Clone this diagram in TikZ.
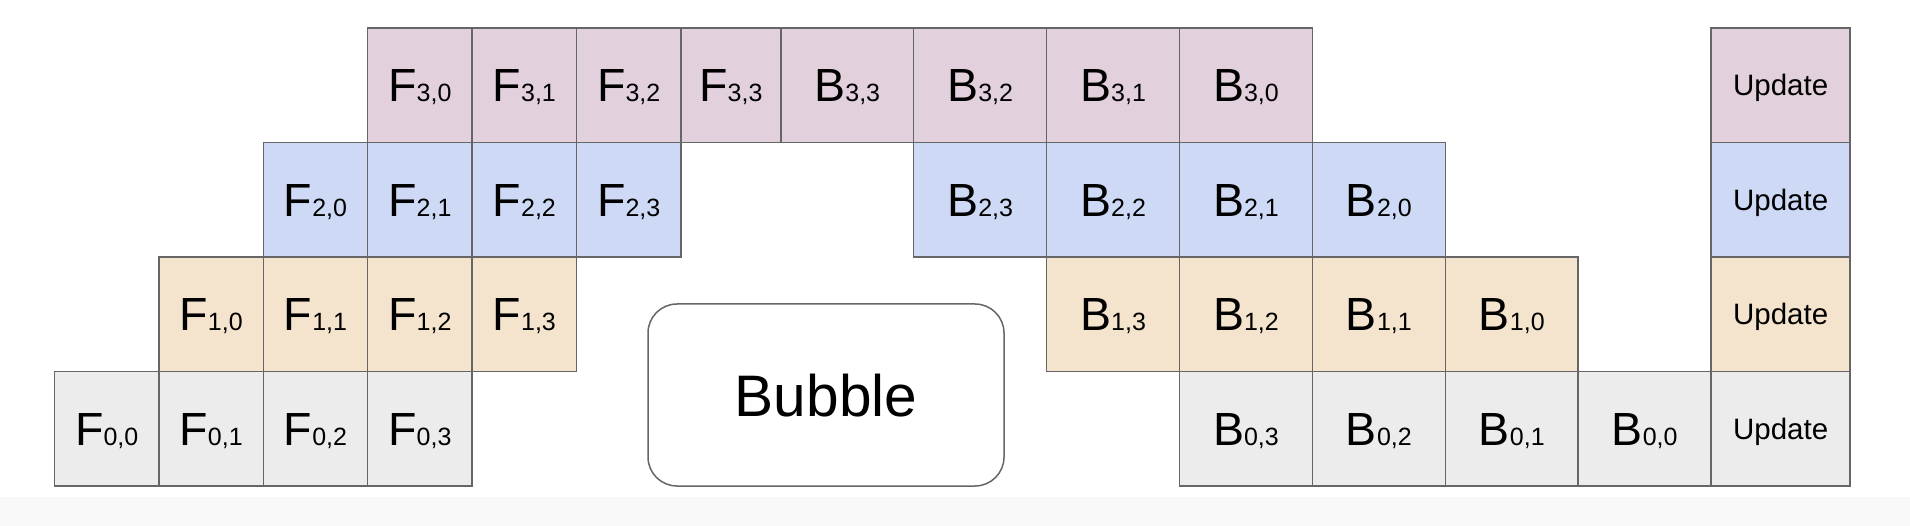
\documentclass[tikz,border=0pt]{standalone}
\usepackage{fontspec}
\setmainfont{Liberation Sans}
\definecolor{cpink}{HTML}{E2D1DC}
\definecolor{cblue}{HTML}{CDD9F5}
\definecolor{ctan}{HTML}{F5E4CD}
\definecolor{cgray}{HTML}{ECECEC}
\definecolor{cline}{HTML}{666666}
\definecolor{cband}{HTML}{F9F9F9}
\begin{document}
\begin{tikzpicture}[x=1pt,y=-1pt,
  cell/.style={draw=cline, line width=1.5pt, inner sep=0pt, minimum height=114.5pt,
    text height=33.3pt, text depth=0pt, font=\fontsize{46.5}{50}\selectfont},
  updbox/.style={draw=cline, line width=1.5pt, inner sep=0pt, minimum height=114.5pt,
    minimum width=139.1pt, text height=21.1pt, text depth=0pt, font=\fontsize{29.5}{32}\selectfont},
  bubblebox/.style={draw=cline, line width=1.5pt, rounded corners=29pt, inner sep=0pt,
    minimum width=356pt, minimum height=182pt, text height=42pt, text depth=0pt,
    font=\fontsize{58.6}{62}\selectfont, fill=white}]
\useasboundingbox (0,0) rectangle (1910,526);
\fill[white] (0,0) rectangle (1910,526);
\fill[cband] (0,497) rectangle (1910,526);
\foreach \r/\col in {0/cgray,1/ctan,2/cblue,3/cpink}{
  \pgfmathsetmacro\cy{428.55-114.5*\r}
  \foreach \k in {0,...,3}{
    \pgfmathsetmacro\fw{(\r+\k==6) ? 99.9 : 104.4}
    \pgfmathsetmacro\fcx{(\r+\k==6) ? 730.85 : 106.7+104.4*(\r+\k)}
    \pgfmathsetmacro\bcx{847.25+132.9*(6-\r-\k)}
    \node[cell, fill=\col, minimum width=\fw pt] (f\r\k) at (\fcx,\cy)
      {F{\fontsize{25}{25}\selectfont\r,\k}};
    \node[cell, fill=\col, minimum width=132.9pt] (b\r\k) at (\bcx,\cy)
      {B{\fontsize{25}{25}\selectfont\r,\k}};
  }
  \node[updbox, fill=\col] (u\r) at (1780.65,\cy) {Update};
}
\node[bubblebox] (bubble) at (826,395) {Bubble};
\end{tikzpicture}
\end{document}
